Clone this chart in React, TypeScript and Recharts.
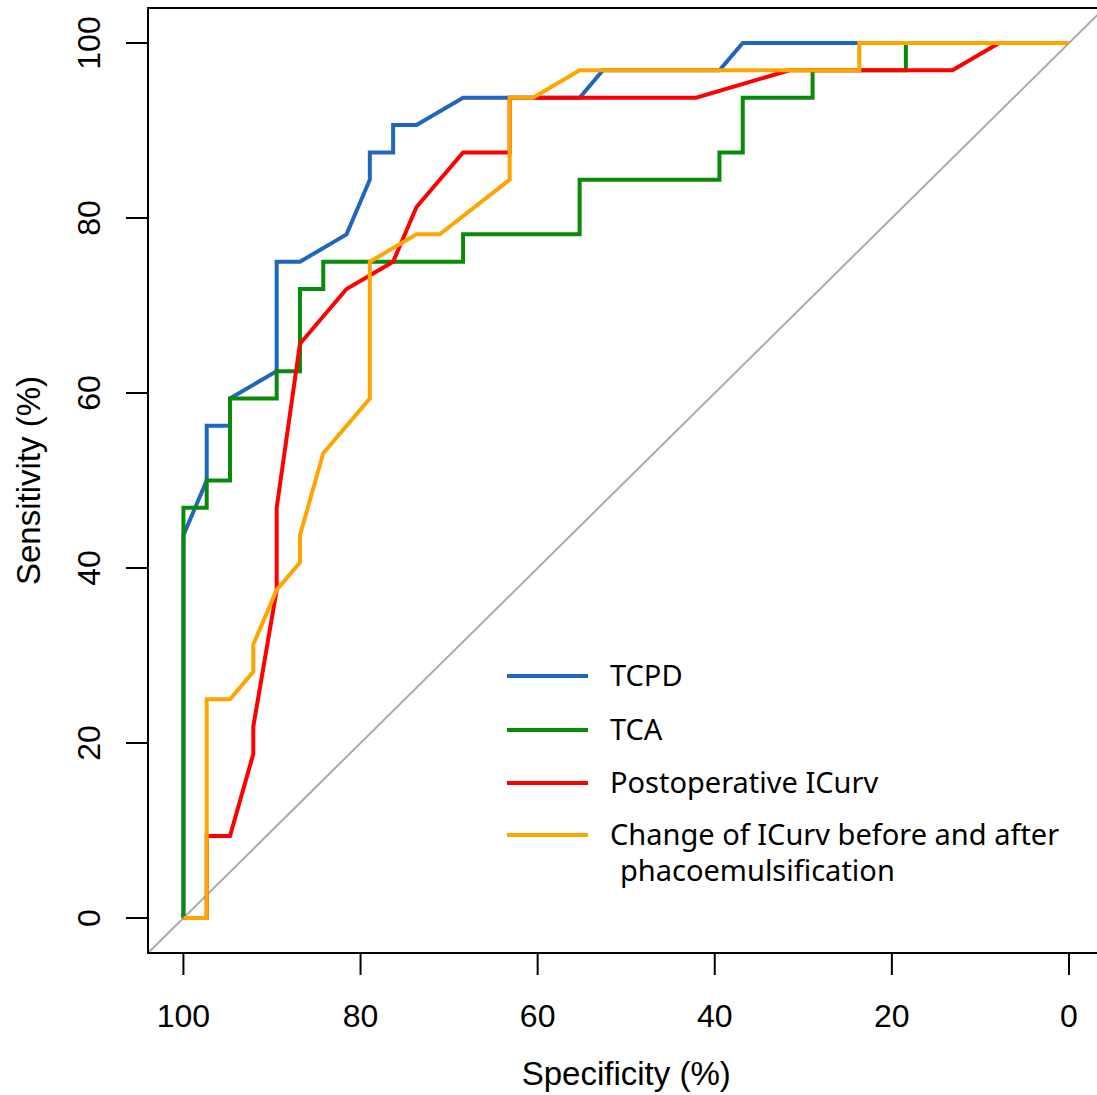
import React from 'react';
import { ComposedChart, Line, XAxis, YAxis, ReferenceLine, ReferenceArea, Legend } from 'recharts';

// ROC curves, specificity (%) vs sensitivity (%)
const tcpdSpec = [100, 100, 97.37, 97.37, 94.74, 94.74, 89.47, 89.47, 86.84, 81.58, 78.95, 78.95, 76.32, 76.32, 73.68, 68.42, 55.26, 52.63, 39.47, 36.84, 0];
const tcpdSens = [0, 43.75, 50, 56.25, 56.25, 59.38, 62.5, 75, 75, 78.13, 84.38, 87.5, 87.5, 90.63, 90.63, 93.75, 93.75, 96.88, 96.88, 100, 100];

const tcaSpec = [100, 100, 97.37, 97.37, 94.74, 94.74, 89.47, 89.47, 86.84, 86.84, 84.21, 84.21, 68.42, 68.42, 55.26, 55.26, 39.47, 39.47, 36.84, 36.84, 28.95, 28.95, 18.42, 18.42, 0];
const tcaSens = [0, 46.88, 46.88, 50, 50, 59.38, 59.38, 62.5, 62.5, 71.88, 71.88, 75, 75, 78.13, 78.13, 84.38, 84.38, 87.5, 87.5, 93.75, 93.75, 96.88, 96.88, 100, 100];

const postSpec = [100, 97.37, 97.37, 94.74, 92.11, 92.11, 89.47, 89.47, 86.84, 81.58, 76.32, 73.68, 68.42, 63.16, 63.16, 42.11, 31.58, 13.16, 7.89, 0];
const postSens = [0, 0, 9.38, 9.38, 18.75, 21.88, 37.5, 46.88, 65.63, 71.88, 75, 81.25, 87.5, 87.5, 93.75, 93.75, 96.88, 96.88, 100, 100];

const changeSpec = [100, 97.37, 97.37, 94.74, 92.11, 92.11, 89.47, 86.84, 86.84, 84.21, 78.95, 78.95, 73.68, 71.05, 63.16, 63.16, 60.53, 55.26, 23.68, 23.68, 0];
const changeSens = [0, 0, 25, 25, 28.13, 31.25, 37.5, 40.63, 43.75, 53.13, 59.38, 75, 78.13, 78.13, 84.38, 93.75, 93.75, 96.88, 96.88, 100, 100];

const xTicks = [100, 80, 60, 40, 20, 0];
const yTicks = [0, 20, 40, 60, 80, 100];

const seriesNames = ['TCPD', 'TCA', 'Postoperative ICurv', 'Change of ICurv before and after'];
const seriesColors = ['#1f66bd', '#0a8a0a', '#ff0000', '#ffa500'];

const toRows = (spec: number[], sens: number[]) => spec.map((s, i) => ({ spec: s, sens: sens[i] }));

const series = [
  toRows(tcpdSpec, tcpdSens),
  toRows(tcaSpec, tcaSens),
  toRows(postSpec, postSens),
  toRows(changeSpec, changeSens),
];

const AXIS_FONT = "'Liberation Sans', Arial, sans-serif";
const LEGEND_FONT = "'Noto Sans', sans-serif";

const XTick = ({ x, y, payload }: any) => (
  <text x={x} y={y + 50} textAnchor="middle" style={{ fontFamily: AXIS_FONT, fontSize: 32 }} fill="#000">
    {payload.value}
  </text>
);

const YTick = ({ x, y, payload }: any) => (
  <text
    x={x - 24}
    y={y}
    textAnchor="middle"
    style={{ fontFamily: AXIS_FONT, fontSize: 32 }}
    fill="#000"
    transform={`rotate(-90, ${x - 24}, ${y})`}
  >
    {payload.value}
  </text>
);

const YLabel = ({ viewBox }: any) => {
  const cx = 40;
  const cy = viewBox.y + viewBox.height / 2;
  return (
    <text
      x={cx}
      y={cy}
      textAnchor="middle"
      style={{ fontFamily: AXIS_FONT, fontSize: 33 }}
      fill="#000"
      transform={`rotate(-90, ${cx}, ${cy})`}
    >
      Sensitivity (%)
    </text>
  );
};

const renderLegend = () => (
  <svg width={620} height={260} style={{ display: 'block' }}>
    {seriesNames.map((name, i) => {
      const rowY = [36, 90, 143, 195][i];
      return (
        <g key={name}>
          <line x1={17} x2={98} y1={rowY} y2={rowY} stroke={seriesColors[i]} strokeWidth={4} />
          <text x={120} y={rowY + 10} style={{ fontFamily: LEGEND_FONT, fontSize: 29 }} fill="#000">
            {name}
          </text>
        </g>
      );
    })}
    <text x={130} y={241} style={{ fontFamily: LEGEND_FONT, fontSize: 29 }} fill="#000">
      phacoemulsification
    </text>
  </svg>
);

export default function App() {
  return (
    <div style={{ position: 'absolute', left: 0, top: 0, width: 1097, height: 1095, overflow: 'hidden', background: '#fff' }}>
      <ComposedChart width={1110} height={1095} margin={{ top: 8, right: 5.6, left: 0, bottom: 0 }}>
        <XAxis
          type="number"
          dataKey="spec"
          domain={[-4, 104]}
          reversed
          allowDataOverflow
          ticks={xTicks}
          interval={0}
          height={142}
          tickSize={22}
          tick={<XTick />}
          axisLine={{ stroke: '#000', strokeWidth: 2 }}
          tickLine={{ stroke: '#000', strokeWidth: 2 }}
          label={{ value: 'Specificity (%)', position: 'insideBottom', offset: 10, fontFamily: AXIS_FONT, fontSize: 33, fill: '#000' }}
        />
        <YAxis
          type="number"
          dataKey="sens"
          domain={[-4, 104]}
          allowDataOverflow
          ticks={yTicks}
          interval={0}
          width={148}
          tickSize={22}
          tick={<YTick />}
          axisLine={{ stroke: '#000', strokeWidth: 2 }}
          tickLine={{ stroke: '#000', strokeWidth: 2 }}
          label={<YLabel />}
        />
        <ReferenceArea x1={104} x2={-4} y1={-4} y2={104} fill="none" stroke="#000" strokeWidth={2} ifOverflow="visible" />
        <ReferenceLine
          segment={[{ x: 104, y: -4 }, { x: -4, y: 104 }]}
          stroke="#aaaaaa"
          strokeWidth={2}
        />
        {series.map((rows, i) => (
          <Line
            key={seriesNames[i]}
            data={rows}
            dataKey="sens"
            type="linear"
            stroke={seriesColors[i]}
            strokeWidth={4}
            dot={false}
            activeDot={false}
            isAnimationActive={false}
            legendType="none"
          />
        ))}
        <Legend
          layout="vertical"
          align="center"
          verticalAlign="middle"
          content={renderLegend}
          wrapperStyle={{ position: 'absolute', left: 490, top: 640, width: 620, height: 260 }}
        />
      </ComposedChart>
    </div>
  );
}
